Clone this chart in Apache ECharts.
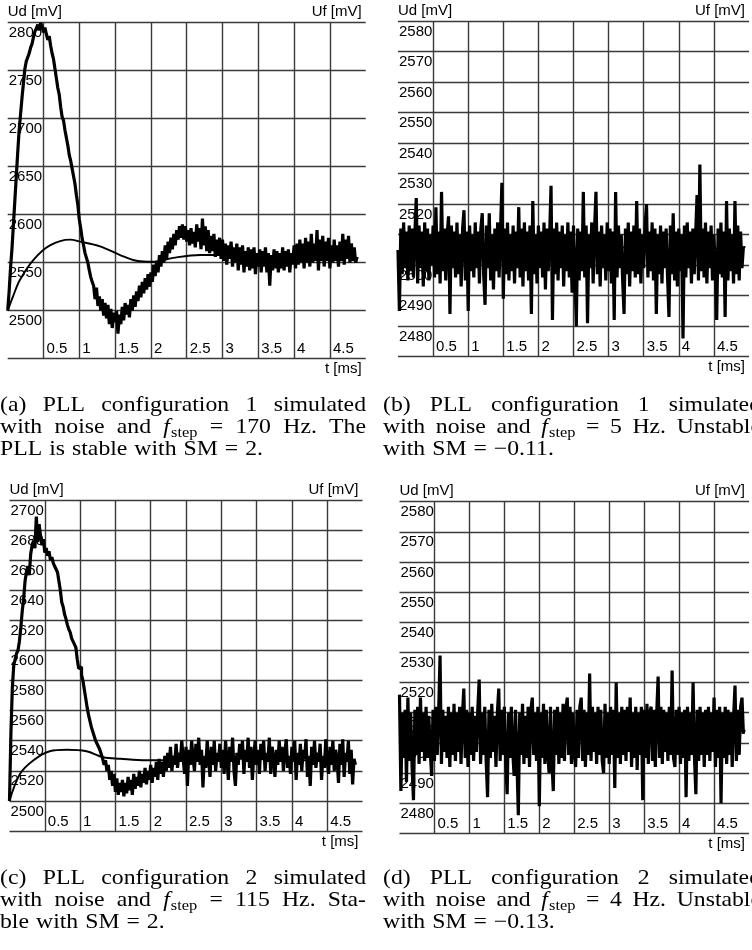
<!DOCTYPE html>
<html><head><meta charset="utf-8">
<script src="https://cdn.jsdelivr.net/npm/echarts@6/dist/echarts.min.js"></script>
<style>html,body{margin:0;padding:0;background:#fff}#c{width:752px;height:950px}</style>
</head><body><div id="c"></div>
<script>
// ---------- data ----------
const DT = 0.02; // sample step of the noisy Ud traces [ms]
// (a) configuration 1, f_step = 170 Hz
const udA = [
2500,2520,2545,2565,2590,2615,2640,2665,2688,2705,
2722,2737,2752,2760,2764,2768,2774,2778,2785,2791,
2794,2798,2792,2800,2796,2790,2795,2788,2782,2786,
2776,2768,2762,2752,2742,2732,2725,2712,2702,2698,
2688,2680,2672,2662,2656,2648,2640,2632,2620,2610,
2595,2586,2575,2568,2560,2555,2550,2542,2535,2530,
2526,2512,2524,2505,2515,2500,2512,2495,2508,2492,
2506,2486,2502,2482,2498,2488,2500,2476,2496,2486,
2504,2490,2508,2496,2506,2493,2512,2500,2516,2504,
2520,2510,2526,2514,2530,2518,2534,2522,2538,2525,
2540,2530,2548,2536,2552,2540,2558,2546,2562,2550,
2568,2554,2572,2560,2576,2564,2580,2568,2584,2574,
2588,2576,2590,2574,2588,2572,2584,2568,2586,2570,
2582,2566,2590,2572,2586,2564,2596,2568,2588,2562,
2584,2560,2578,2562,2580,2556,2574,2558,2576,2554,
2574,2552,2570,2548,2568,2554,2572,2546,2566,2550,
2570,2542,2566,2548,2568,2540,2562,2546,2566,2542,
2564,2544,2566,2538,2560,2546,2564,2540,2562,2546,
2566,2540,2560,2526,2558,2542,2564,2544,2562,2540,
2560,2544,2566,2542,2562,2546,2564,2540,2560,2548,
2568,2544,2570,2548,2574,2550,2570,2544,2576,2550,
2572,2546,2580,2550,2570,2552,2584,2542,2574,2552,
2578,2546,2572,2552,2576,2544,2568,2550,2574,2552,
2568,2546,2572,2552,2580,2548,2574,2554,2578,2550,
2570,2552,2566,2550,2556];
const ufA_t = [0,0.08,0.17,0.36,0.59,0.87,1.01,1.29,1.57,1.80,2.03,2.31,2.69,3.15,3.6,4.1,4.5,4.88];
const ufA   = [2500,2516,2532,2553,2568,2574,2572,2567,2558,2552,2551,2555,2558,2558,2556,2555,2556,2555];

// (b) configuration 1, f_step = 5 Hz
const udB = [
2505,2485,2512,2497,2514,2499,2511,2495,2513,2498,
2512,2496,2510,2522,2494,2513,2499,2511,2493,2514,
2498,2512,2495,2510,2500,2513,2496,2519,2497,2511,
2494,2524,2498,2512,2495,2510,2516,2484,2513,2499,
2511,2496,2514,2497,2510,2493,2512,2518,2495,2511,
2485,2513,2498,2510,2496,2514,2499,2511,2494,2512,
2517,2497,2487,2513,2499,2517,2495,2510,2492,2512,
2498,2514,2496,2511,2527,2489,2512,2497,2514,2495,
2510,2498,2513,2494,2511,2499,2519,2496,2512,2493,
2514,2498,2511,2495,2513,2484,2521,2497,2510,2494,
2513,2499,2511,2496,2514,2492,2512,2498,2510,2526,
2482,2512,2497,2514,2495,2511,2499,2513,2493,2510,
2498,2514,2496,2511,2491,2513,2497,2480,2512,2495,
2511,2498,2524,2496,2513,2481,2510,2499,2514,2494,
2512,2524,2497,2511,2493,2513,2499,2510,2495,2514,
2498,2512,2494,2511,2482,2524,2496,2513,2499,2510,
2495,2484,2512,2497,2514,2493,2511,2498,2513,2496,
2521,2497,2512,2494,2510,2499,2513,2520,2496,2511,
2498,2514,2495,2512,2484,2510,2497,2513,2494,2511,
2499,2512,2496,2483,2513,2497,2517,2495,2511,2493,
2512,2498,2510,2476,2513,2496,2514,2499,2511,2494,
2512,2497,2510,2523,2495,2533,2498,2512,2496,2514,
2494,2511,2499,2513,2495,2510,2498,2482,2512,2497,
2514,2496,2511,2483,2521,2495,2512,2498,2510,2494,
2521,2497,2513,2495,2511,2499,2506];
const ufB_t = [0,0.1,0.3,1,2,3,4,4.95];
const ufB   = [2500,2504,2506,2506,2505,2506,2505,2506];

// (c) configuration 2, f_step = 115 Hz
const udC = [
2500,2545,2575,2590,2594,2598,2600,2606,2615,2626,
2634,2646,2652,2656,2650,2664,2670,2673,2668,2689,
2672,2684,2676,2670,2674,2665,2668,2663,2666,2660,
2662,2658,2656,2654,2652,2646,2640,2632,2629,2624,
2621,2617,2614,2612,2608,2606,2604,2602,2594,2588,
2589,2584,2580,2574,2568,2562,2557,2553,2549,2546,
2543,2540,2538,2536,2534,2531,2528,2524,2527,2520,
2524,2514,2520,2510,2518,2506,2515,2504,2512,2506,
2514,2503,2512,2505,2516,2507,2514,2504,2518,2508,
2516,2510,2520,2509,2518,2512,2522,2511,2520,2514,
2524,2512,2522,2516,2526,2514,2528,2518,2526,2516,
2530,2520,2532,2522,2536,2520,2530,2524,2538,2522,
2532,2526,2540,2528,2518,2536,2510,2534,2524,2540,
2528,2520,2538,2526,2542,2524,2534,2509,2530,2522,
2540,2528,2516,2536,2524,2540,2520,2532,2526,2538,
2522,2534,2518,2540,2528,2514,2536,2526,2542,2520,
2510,2532,2524,2538,2528,2540,2518,2534,2526,2542,
2522,2536,2514,2530,2540,2524,2534,2518,2538,2528,
2540,2520,2532,2526,2542,2518,2536,2528,2516,2534,
2524,2540,2526,2536,2520,2532,2541,2522,2530,2518,
2536,2526,2540,2514,2532,2524,2538,2520,2534,2528,
2541,2516,2530,2510,2536,2524,2540,2522,2532,2526,
2538,2514,2530,2522,2541,2526,2518,2536,2524,2540,
2520,2534,2528,2512,2538,2524,2541,2516,2532,2526,
2540,2518,2534,2511,2528,2524];
const ufC_t = [0,0.15,0.34,0.57,0.81,1.09,1.33,1.57,1.94,2.3,2.8,3.4,4.0,4.5,4.9];
const ufC   = [2500,2518,2527,2533,2534,2533,2529,2528,2527,2527,2528,2528,2527,2527,2526];

// (d) configuration 2, f_step = 4 Hz
const udD = [
2516,2484,2510,2495,2511,2487,2515,2494,2510,2492,
2481,2511,2496,2512,2493,2515,2497,2510,2494,2512,
2495,2509,2497,2489,2511,2494,2512,2496,2510,2529,
2493,2511,2497,2509,2495,2512,2492,2510,2496,2513,
2494,2510,2497,2512,2493,2509,2518,2495,2511,2492,
2510,2496,2512,2494,2509,2497,2511,2521,2493,2510,
2496,2512,2494,2482,2511,2495,2513,2497,2509,2492,
2510,2518,2494,2511,2496,2512,2493,2483,2510,2495,
2512,2497,2489,2511,2494,2476,2510,2496,2513,2493,
2509,2495,2512,2492,2511,2515,2496,2510,2494,2512,
2479,2510,2495,2513,2493,2511,2497,2490,2512,2494,
2484,2511,2496,2512,2493,2510,2495,2513,2494,2511,
2515,2496,2512,2493,2510,2497,2492,2511,2495,2512,
2515,2494,2511,2492,2510,2496,2523,2494,2512,2497,
2510,2493,2512,2496,2511,2494,2490,2513,2495,2510,
2493,2512,2496,2511,2485,2520,2495,2510,2493,2512,
2496,2511,2494,2512,2497,2515,2492,2510,2495,2512,
2491,2510,2496,2512,2481,2511,2495,2513,2493,2510,
2512,2494,2511,2492,2510,2522,2495,2512,2493,2511,
2497,2510,2494,2512,2496,2524,2495,2492,2511,2496,
2512,2493,2510,2495,2511,2482,2512,2494,2510,2496,
2520,2495,2483,2511,2494,2512,2496,2510,2492,2511,
2496,2512,2494,2510,2497,2515,2492,2511,2495,2512,
2480,2510,2495,2512,2493,2511,2496,2510,2492,2509,
2519,2494,2511,2496,2512,2515,2503];
const ufD_t = [0,0.1,0.3,1,2,3,4,4.95];
const ufD   = [2500,2503,2504,2504,2503,2504,2503,2504];

// axis ranges (min, max, interval)
const yRangeA = [2450, 2800, 50];
const yRangeB = [2470, 2580, 10];
const yRangeC = [2480, 2700, 20];
const yRangeD = [2470, 2580, 10];
const tRange  = [0, 5, 0.5];

// captions
const capA = ["(a) PLL configuration 1 simulated", "with noise and {f} = 170 Hz. The", "PLL is stable with SM = 2."];
const capB = ["(b) PLL configuration 1 simulated", "with noise and {f} = 5 Hz. Unstable", "with SM = \u22120.11."];
const capC = ["(c) PLL configuration 2 simulated", "with noise and {f} = 115 Hz. Sta-", "ble with SM = 2."];
const capD = ["(d) PLL configuration 2 simulated", "with noise and {f} = 4 Hz. Unstable", "with SM = \u22120.13."];

// ---------- layout ----------
const panels = [
  {grid:{left:7.7, top:22.7, width:358, height:336},   ud:udA, uft:ufA_t, uf:ufA, yr:yRangeA, w:3.2},
  {grid:{left:398, top:21,   width:360, height:335.7}, ud:udB, uft:ufB_t, uf:ufB, yr:yRangeB, w:3.2},
  {grid:{left:9.5, top:500,  width:353, height:331},   ud:udC, uft:ufC_t, uf:ufC, yr:yRangeC, w:3.2},
  {grid:{left:399.5,top:501.7,width:355,height:331.6}, ud:udD, uft:ufD_t, uf:ufD, yr:yRangeD, w:3.2}
];
const SANS = '"Liberation Sans", Arial, sans-serif';
const FS = 15;
const GRIDC = '#3a3a3a';

const grids=[], xAxes=[], yAxes=[], series=[];
panels.forEach((p,gi)=>{
  grids.push(Object.assign({containLabel:false}, p.grid));
  xAxes.push({
    type:'value', gridIndex:gi, min:tRange[0], max:tRange[1], interval:tRange[2],
    name:'t [ms]', nameLocation:'end', nameGap:0,
    nameTextStyle:{fontFamily:SANS, fontSize:FS, color:'#000', align:'right', verticalAlign:'top', padding:[3,4,0,0]},
    axisLine:{show:false}, axisTick:{show:false},
    axisLabel:{inside:true, margin:2, align:'left', verticalAlign:'bottom', padding:[0,0,0,3],
      fontFamily:SANS, fontSize:FS, color:'#000',
      formatter:v=> (v>tRange[0] && v<tRange[1]) ? String(v) : ''},
    splitLine:{show:true, showMinLine:false, showMaxLine:false, lineStyle:{color:GRIDC, width:1.4}}
  });
  const [mn,mx,iv]=p.yr;
  yAxes.push({
    type:'value', gridIndex:gi, position:'left', min:mn, max:mx, interval:iv,
    name:'Ud [mV]', nameLocation:'end', nameGap:3,
    nameTextStyle:{fontFamily:SANS, fontSize:FS, color:'#000', align:'left', verticalAlign:'bottom'},
    axisLine:{show:false}, axisTick:{show:false},
    axisLabel:{inside:true, margin:1, align:'left', verticalAlign:'top', padding:[3,0,0,0],
      fontFamily:SANS, fontSize:FS, color:'#000', formatter:v=> v===mn ? '' : String(v)},
    splitLine:{show:true, lineStyle:{color:GRIDC, width:1.4}}
  });
  yAxes.push({
    type:'value', gridIndex:gi, position:'right', min:mn, max:mx, interval:iv,
    name:'Uf [mV]', nameLocation:'end', nameGap:3,
    nameTextStyle:{fontFamily:SANS, fontSize:FS, color:'#000', align:'right', verticalAlign:'bottom', padding:[0,4,0,0]},
    axisLine:{show:false}, axisTick:{show:false}, axisLabel:{show:false}, splitLine:{show:false}
  });
  series.push({
    name:'Uf', type:'line', xAxisIndex:gi, yAxisIndex:2*gi+1, smooth:0.35, symbol:'none',
    data:p.uft.map((t,i)=>[t,p.uf[i]]), lineStyle:{color:'#000', width:1.9}, z:2
  });
  series.push({
    name:'Ud', type:'line', xAxisIndex:gi, yAxisIndex:2*gi, step:'end', symbol:'none',
    data:p.ud.map((v,i)=>[+(i*DT).toFixed(2), v]), lineStyle:{color:'#000', width:p.w, cap:'butt', join:'bevel'}, z:3
  });
});

// ---------- captions (justified like the LaTeX original) ----------
const CAP_FONT = '"Liberation Serif","Times New Roman",serif';
const CAP_SIZE = 21, SUB_SIZE = 14.5, SX = 1.13, SPACE = 7, LINE_H = 22;
const mctx = document.createElement('canvas').getContext('2d');
function measure(t,size,italic){ mctx.font=(italic?'italic ':'')+size+'px '+CAP_FONT; return mctx.measureText(t).width; }
function tokW(tok){ return tok==='{f}' ? (measure('f',CAP_SIZE,true)+1+measure('step',SUB_SIZE,false))*SX : measure(tok,CAP_SIZE,false)*SX; }
function txt(x,y,s,size,italic){
  return {type:'text', x:x, y:y, scaleX:SX, silent:true,
    style:{text:s, fontFamily:CAP_FONT, fontSize:size, fontStyle:italic?'italic':'normal', fill:'#000', align:'left', verticalAlign:'middle'}};
}
function caption(lines,x0,y0,W){
  const els=[];
  lines.forEach((line,li)=>{
    const toks=line.split(' '); const ws=toks.map(tokW);
    const total=ws.reduce((a,b)=>a+b,0);
    const justify = li<lines.length-1;
    const gap = justify ? (W-total)/(toks.length-1) : SPACE;
    let x=x0; const y=y0+li*LINE_H;
    toks.forEach((tok,i)=>{
      if(tok==='{f}'){
        const wf=measure('f',CAP_SIZE,true)*SX;
        els.push(txt(x,y,'f',CAP_SIZE,true));
        els.push(txt(x+wf+SX,y+6,'step',SUB_SIZE,false));
      } else els.push(txt(x,y,tok,CAP_SIZE,false));
      x+=ws[i]+gap;
    });
  });
  return els;
}
const graphics = [].concat(
  caption(capA,0,405,366), caption(capB,383,405,378),
  caption(capC,0,878,366), caption(capD,383,878,378)
);

const chart = echarts.init(document.getElementById('c'), null, {renderer:'canvas', width:752, height:950});
chart.setOption({
  animation:false, backgroundColor:'#fff',
  grid:grids, xAxis:xAxes, yAxis:yAxes, series:series,
  graphic:{elements:graphics}
});
</script>
</body></html>
